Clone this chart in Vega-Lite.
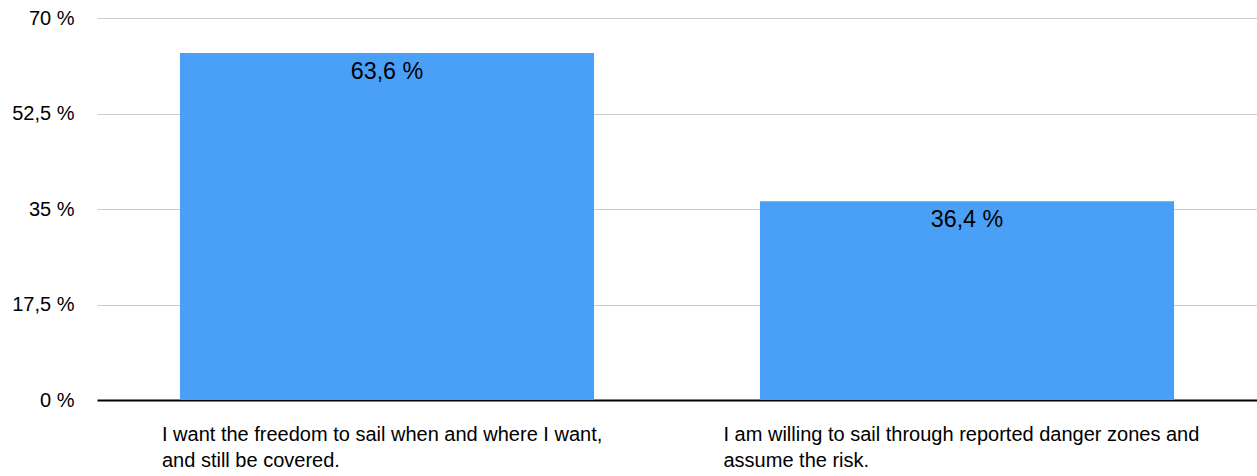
{
  "$schema": "https://vega.github.io/schema/vega-lite/v6.json",
  "autosize": {"type": "none"},
  "width": 1160,
  "height": 382,
  "padding": {"left": 97, "top": 18, "right": 0, "bottom": 76},
  "background": "white",
  "config": {"view": {"stroke": null}, "font": "Liberation Sans"},
  "data": {
    "values": [
      {"option": "I want the freedom to sail when and where I want,|and still be covered.", "share": 63.6},
      {"option": "I am willing to sail through reported danger zones and|assume the risk.", "share": 36.4}
    ]
  },
  "encoding": {
    "x": {
      "field": "option",
      "type": "nominal",
      "sort": null,
      "scale": {"paddingInner": 0.286, "paddingOuter": 0.143},
      "axis": {
        "title": null,
        "labelAngle": 0,
        "labelExpr": "split(datum.label, '|')",
        "labelAlign": "left",
        "labelBaseline": "top",
        "labelOffset": {"condition": {"test": "indexof(datum.value, 'I want') == 0", "value": -225}, "value": -243.5},
        "labelFontSize": 20,
        "labelLineHeight": 26.5,
        "labelColor": "#000000",
        "labelPadding": 24,
        "labelLimit": 0,
        "ticks": false,
        "tickSize": 0,
        "domainColor": "#000000",
        "domainWidth": 2,
        "grid": false
      }
    },
    "y": {
      "field": "share",
      "type": "quantitative",
      "scale": {"domain": [0, 70], "nice": false},
      "axis": {
        "title": null,
        "values": [0, 17.5, 35, 52.5, 70],
        "labelExpr": "replace(format(datum.value, '~g'), '.', ',') + ' %'",
        "labelFontSize": 20,
        "labelColor": "#000000",
        "labelPadding": 23,
        "ticks": false,
        "tickSize": 0,
        "domain": false,
        "grid": true,
        "gridColor": "#cccccc",
        "gridWidth": 1
      }
    }
  },
  "layer": [
    {"mark": {"type": "bar", "color": "#4a9ff7"}},
    {
      "mark": {
        "type": "text",
        "baseline": "alphabetic",
        "align": "center",
        "dy": 26,
        "fontSize": 23.3,
        "color": "#000000",
        "text": {"expr": "replace(format(datum.share, '.1f'), '.', ',') + ' %'"}
      }
    }
  ]
}
